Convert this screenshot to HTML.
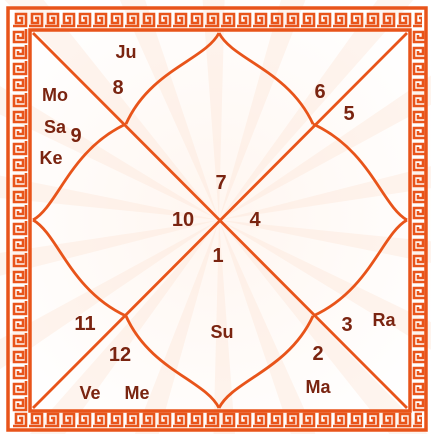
<!DOCTYPE html>
<html><head><meta charset="utf-8"><style>
html,body{margin:0;padding:0;background:#fff;width:431px;height:434px;overflow:hidden}
svg{display:block}
text{font-family:"Liberation Sans",sans-serif;font-weight:bold;fill:#7a2410;text-anchor:middle;dominant-baseline:central}
</style></head><body>
<svg width="431" height="434" viewBox="0 0 431 434">
<defs>
<radialGradient id="bg" cx="0.5" cy="0.5" r="0.6">
<stop offset="0" stop-color="#fff6f0"/><stop offset="1" stop-color="#fff"/>
</radialGradient>
<pattern id="keyH" width="16" height="16" patternUnits="userSpaceOnUse" x="12" y="12">
<path d="M1,14 H14 V2 H4 V11 H10 V6 H7" fill="none" stroke="#e8541a" stroke-width="2.6"/>
</pattern>
<pattern id="keyV" width="16" height="16" patternUnits="userSpaceOnUse" x="12" y="12">
<path d="M14,1 V14 H2 V4 H11 V10 H6 V7" fill="none" stroke="#e8541a" stroke-width="2.6"/>
</pattern>
</defs>
<rect x="0" y="0" width="431" height="434" fill="url(#bg)"/>
<g id="rays" fill="#fde3d3" opacity="0.35"></g>
<g>
<rect x="8" y="8" width="418" height="422" fill="none" stroke="#e8541a" stroke-width="3.5"/>
<rect x="12" y="12" width="410" height="16" fill="url(#keyH)"/>
<rect x="12" y="412" width="410" height="16" fill="url(#keyH)"/>
<rect x="12" y="28" width="16" height="384" fill="url(#keyV)"/>
<rect x="410" y="28" width="16" height="384" fill="url(#keyV)"/>
<rect x="30" y="30" width="380" height="381" fill="none" stroke="#e8541a" stroke-width="3.5"/>
</g>
<g fill="none" stroke="#e8541a" stroke-width="2.8">
<line x1="33" y1="33" x2="407" y2="408"/>
<line x1="407" y1="33" x2="33" y2="408"/>
<path d="M219,33 C205,60 150,70 126,124"/>
<path d="M219,33 C233,60 288,70 313,124"/>
<path d="M33,220 C58,206 70,150 126,124"/>
<path d="M407,220 C382,206 370,150 313,124"/>
<path d="M33,220 C58,234 70,290 126,316"/>
<path d="M407,220 C382,234 370,290 313,316"/>
<path d="M219,408 C205,380 150,370 126,316"/>
<path d="M219,408 C233,380 288,370 313,316"/>
</g>
<g font-size="20">
<text x="118" y="88">8</text>
<text x="76" y="136">9</text>
<text x="221" y="183">7</text>
<text x="183" y="220">10</text>
<text x="255" y="220">4</text>
<text x="218" y="256">1</text>
<text x="320" y="92">6</text>
<text x="349" y="114">5</text>
<text x="85" y="324">11</text>
<text x="120" y="355">12</text>
<text x="347" y="325">3</text>
<text x="318" y="354">2</text>
</g>
<g font-size="18">
<text x="126" y="52">Ju</text>
<text x="55" y="95">Mo</text>
<text x="55" y="127">Sa</text>
<text x="51" y="158">Ke</text>
<text x="222" y="332">Su</text>
<text x="384" y="320">Ra</text>
<text x="318" y="387">Ma</text>
<text x="90" y="393">Ve</text>
<text x="137" y="393">Me</text>
</g>
</svg>
<script>
(function(){var g=document.getElementById("rays");var ns="http://www.w3.org/2000/svg";
for(var i=0;i<18;i++){var a=i*Math.PI/9+0.1,b=a+0.1;var p=document.createElementNS(ns,"path");
p.setAttribute("d","M219,220 L"+(219+330*Math.cos(a))+","+(220+330*Math.sin(a))+" L"+(219+330*Math.cos(b))+","+(220+330*Math.sin(b))+"Z");


g.appendChild(p);}})();
</script>
</body></html>
